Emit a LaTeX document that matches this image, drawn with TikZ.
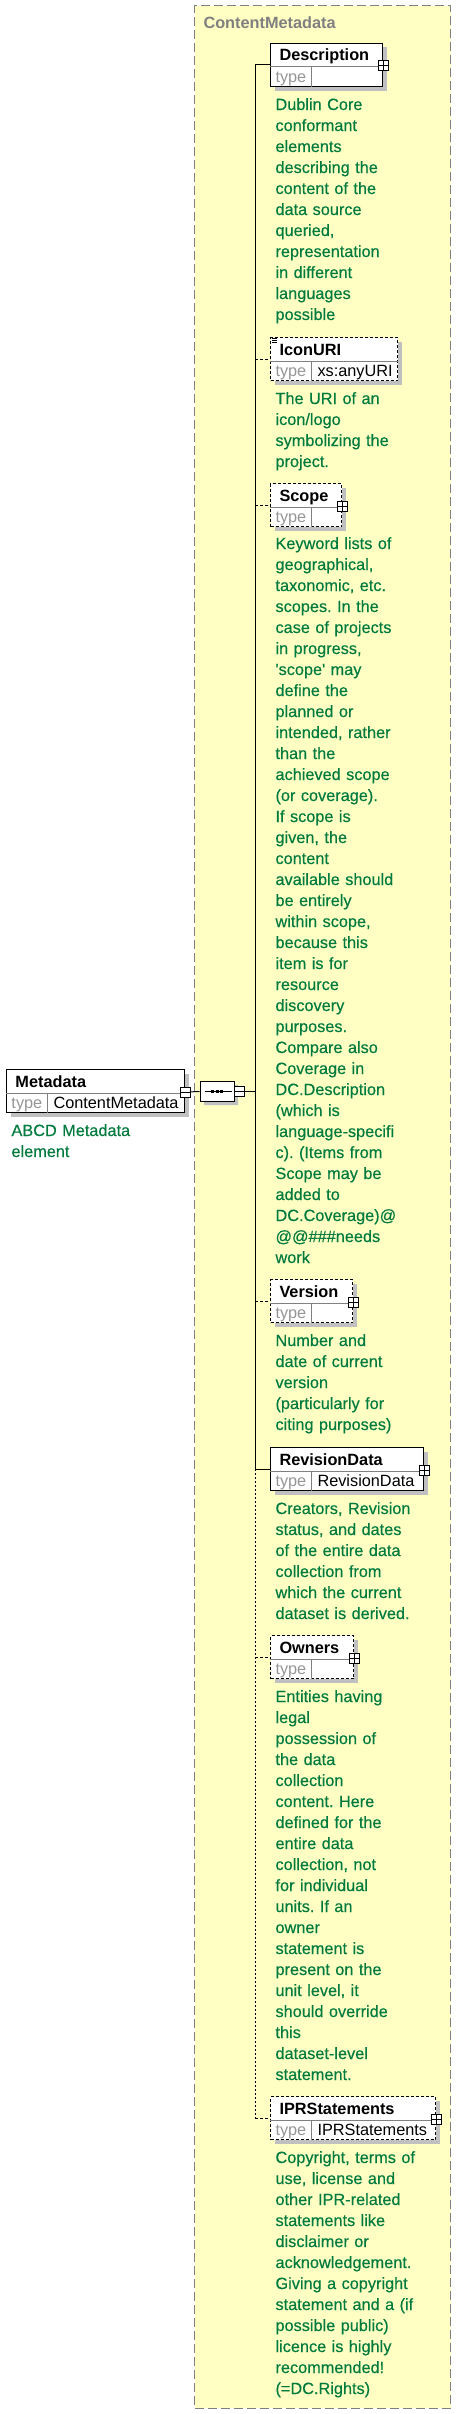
\documentclass[tikz,border=0pt]{standalone}
\usepackage{fontspec}
\setmainfont{Liberation Sans}
\newfontfamily\notefont[FakeBold=0.35]{Liberation Sans}
\usetikzlibrary{shapes.misc, shadows}
\definecolor{annot}{RGB}{0,122,61}
\definecolor{cmfill}{RGB}{255,255,196}
\definecolor{shadowgray}{RGB}{192,192,192}
\definecolor{framegray}{RGB}{128,128,128}
\definecolor{typegray}{RGB}{150,150,150}
\frenchspacing

\begin{document}
\begin{tikzpicture}[x=1pt,y=-1pt,line width=1pt,font=\fontsize{16.3}{21}\selectfont,
    box/.style={draw, fill=white, anchor=north west, minimum height=43pt, inner sep=0pt,
        drop shadow={shadow xshift=4pt, shadow yshift=-4pt, fill=shadowgray, opacity=1}},
    optbox/.style={box, dash pattern=on 3pt off 2pt},
    group/.style={draw=framegray, fill=cmfill, dash pattern=on 9pt off 4pt, anchor=north west, inner sep=0pt},
    grouptitle/.style={anchor=base west, inner sep=0pt, text=framegray, font=\fontsize{16.3}{21}\selectfont\bfseries},
    rowline/.style={draw=framegray, solid},
    ttl/.style={anchor=base west, inner sep=0pt, font=\fontsize{16.3}{21}\selectfont\bfseries},
    typ/.style={anchor=base west, inner sep=0pt, text=typegray},
    tval/.style={anchor=base west, inner sep=0pt},
    note/.style={anchor=base west, text width=180pt, align=left, inner sep=0pt, text=annot,
        font=\notefont\fontsize{16.3}{21}\selectfont},
    expand/.style={draw, solid, fill=white, minimum size=10pt, inner sep=0pt,
        path picture={\draw (path picture bounding box.west) -- (path picture bounding box.east)
            (path picture bounding box.north) -- (path picture bounding box.south);}},
    collapse/.style={draw, solid, fill=white, minimum size=10pt, inner sep=0pt,
        path picture={\draw (path picture bounding box.west) -- (path picture bounding box.east);}},
    seq/.style={chamfered rectangle, chamfered rectangle xsep=5pt, chamfered rectangle ysep=5pt,
        draw, fill=white, minimum width=34pt, minimum height=20pt, inner sep=0pt,
        drop shadow={shadow xshift=4pt, shadow yshift=-4pt, fill=shadowgray, opacity=1}},
    conn/.style={draw, solid},
    optconn/.style={draw, dash pattern=on 3pt off 2pt},
    optspine/.style={draw, dash pattern=on 2pt off 2pt}]
    \useasboundingbox (0,0) rectangle (469,2414);

    % complex type frame
    \node[group, minimum width=256pt, minimum height=2402pt] (cm) at (194,5.5) {};
    \node[grouptitle] (cm-t) at (203,29) {ContentMetadata};

    % element boxes
    \foreach \n/\y/\x/\w/\st/\lbl/\tv in {
        meta/1069/6/178pt/box/Metadata/ContentMetadata,
        desc/43/270/112pt/box/Description/{},
        icon/337/270/127pt/optbox/IconURI/xs:anyURI,
        scope/483/270/71pt/optbox/Scope/{},
        ver/1279/270/82pt/optbox/Version/{},
        rev/1447/270/153pt/box/RevisionData/RevisionData,
        own/1635/270/83pt/optbox/Owners/{},
        ipr/2096/270/165pt/optbox/IPRStatements/IPRStatements} {
        \node[\st, minimum width=\w] (\n) at (\x,\y) {};
        \draw[rowline] ([yshift=20pt]\n.south west) -- ([yshift=20pt]\n.south east)
            ([xshift=41pt]\n.south west) -- ([xshift=41pt,yshift=20pt]\n.south west);
        \node[ttl] (\n-t) at ([xshift=9pt,yshift=-18pt]\n.north west) {\lbl};
        \node[typ] (\n-k) at ([xshift=5pt,yshift=5pt]\n.south west) {type};
        \node[tval] (\n-v) at ([xshift=47pt,yshift=5pt]\n.south west) {\tv};
    }
    \foreach \d in {0,2,4}
        \draw[line width=0.7pt] ([shift={(2,1+\d)}]icon.north west) -- ++(5,0);

    % expanders
    \foreach \n in {desc,scope,ver,rev,own,ipr}
        \node[expand] (\n-x) at ([yshift=21pt]\n.south east) {};
    \node[collapse] (meta-x) at ([yshift=21pt]meta.south east) {};

    % sequence compositor
    \node[seq] (seq) at (217,1091) {};
    \draw ([xshift=5pt]seq.west) -- ([xshift=-3pt]seq.east);
    \foreach \d in {-4.5,0,4.5}
        \fill ([xshift=\d pt]seq.center) +(-1.5,-1.5) rectangle +(1.5,1.5);
    \node[collapse] (seq-x) at (239.5,1091) {};

    % connectors
    \coordinate (spine) at (255,0);
    \draw[conn] (meta-x) -- (seq);
    \draw[conn] (seq-x) -- (spine |- seq-x);
    \draw[conn] (spine |- desc.west) -- (spine |- rev.west);
    \draw[optspine] (spine |- rev.west) -- (spine |- ipr.west);
    \foreach \n in {desc,rev}
        \draw[conn] (spine |- \n.west) -- (\n.west);
    \foreach \n in {icon,scope,ver,own,ipr}
        \draw[optconn] (spine |- \n.west) -- (\n.west);

    % annotations
    \node[note] (meta-d) at ([shift={(5,23)}]meta.south west) {ABCD Metadata\\element};
    \node[note] (desc-d) at ([shift={(5,23)}]desc.south west) {Dublin Core\\conformant\\elements\\describing the\\content of the\\data source\\queried,\\representation\\in different\\languages\\possible};
    \node[note] (icon-d) at ([shift={(5,23)}]icon.south west) {The URI of an\\icon/logo\\symbolizing the\\project.};
    \node[note] (scope-d) at ([shift={(5,22)}]scope.south west) {Keyword lists of\\geographical,\\taxonomic, etc.\\scopes. In the\\case of projects\\in progress,\\\textquotesingle scope\textquotesingle{} may\\define the\\planned or\\intended, rather\\than the\\achieved scope\\(or coverage).\\If scope is\\given, the\\content\\available should\\be entirely\\within scope,\\because this\\item is for\\resource\\discovery\\purposes.\\Compare also\\Coverage in\\DC.Description\\(which is\\language-specifi\\c). (Items from\\Scope may be\\added to\\DC.Coverage)@\\@@\#\#\#needs\\work};
    \node[note] (ver-d) at ([shift={(5,23)}]ver.south west) {Number and\\date of current\\version\\(particularly for\\citing purposes)};
    \node[note] (rev-d) at ([shift={(5,23)}]rev.south west) {Creators, Revision\\status, and dates\\of the entire data\\collection from\\which the current\\dataset is derived.};
    \node[note] (own-d) at ([shift={(5,23)}]own.south west) {Entities having\\legal\\possession of\\the data\\collection\\content. Here\\defined for the\\entire data\\collection, not\\for individual\\units. If an\\owner\\statement is\\present on the\\unit level, it\\should override\\this\\dataset-level\\statement.};
    \node[note] (ipr-d) at ([shift={(5,23)}]ipr.south west) {Copyright, terms of\\use, license and\\other IPR-related\\statements like\\disclaimer or\\acknowledgement.\\Giving a copyright\\statement and a (if\\possible public)\\licence is highly\\recommended!\\(=DC.Rights)};
\end{tikzpicture}
\end{document}
